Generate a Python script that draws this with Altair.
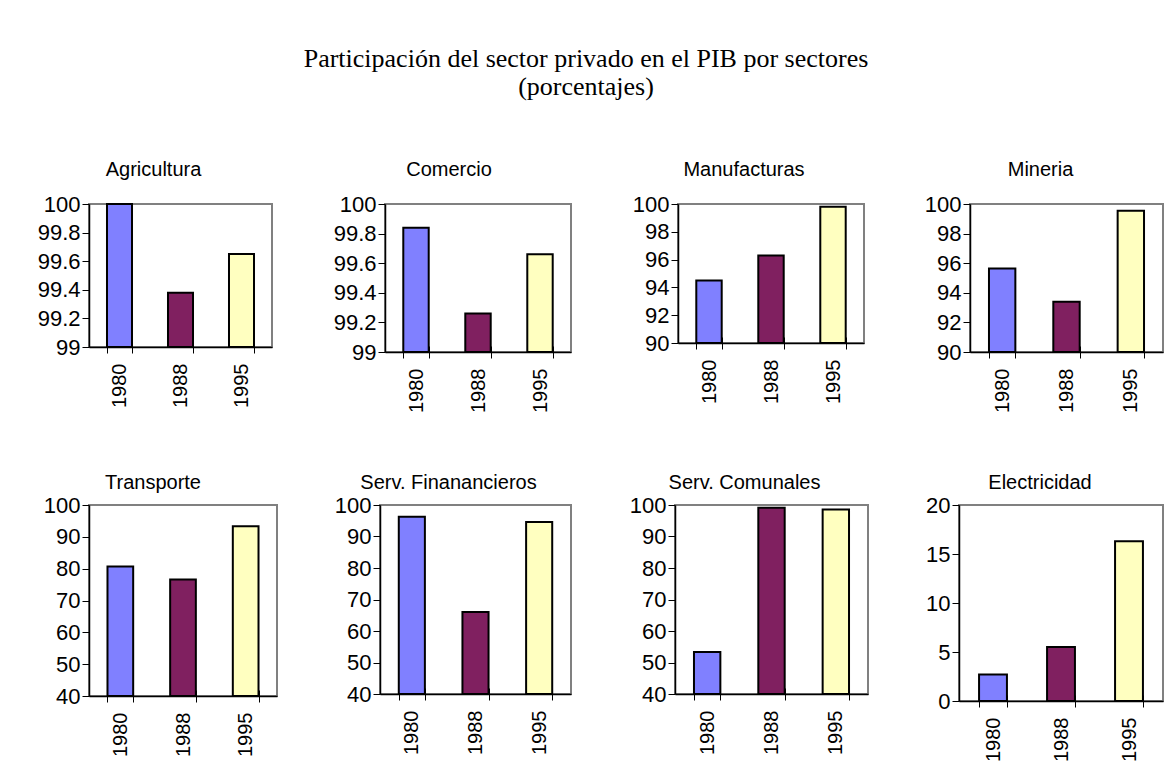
import altair as alt
import pandas as pd

years = ["1980", "1988", "1995"]
sectors = ["Agricultura", "Comercio", "Manufacturas", "Mineria",
           "Transporte", "Serv. Finanancieros", "Serv. Comunales", "Electricidad"]

agricultura = [100.0, 99.38, 99.65]
comercio = [99.84, 99.26, 99.66]
manufacturas = [94.5, 96.3, 99.8]
mineria = [95.65, 93.4, 99.55]
transporte = [80.7, 76.6, 93.3]
serv_financieros = [96.3, 66.0, 94.6]
serv_comunales = [53.3, 99.1, 98.6]
electricidad = [2.7, 5.5, 16.3]

series = [agricultura, comercio, manufacturas, mineria,
          transporte, serv_financieros, serv_comunales, electricidad]

y_domains = [[99, 100], [99, 100], [90, 100], [90, 100],
             [40, 100], [40, 100], [40, 100], [0, 20]]
y_ticks = [[99, 99.2, 99.4, 99.6, 99.8, 100],
           [99, 99.2, 99.4, 99.6, 99.8, 100],
           [90, 92, 94, 96, 98, 100],
           [90, 92, 94, 96, 98, 100],
           [40, 50, 60, 70, 80, 90, 100],
           [40, 50, 60, 70, 80, 90, 100],
           [40, 50, 60, 70, 80, 90, 100],
           [0, 5, 10, 15, 20]]

bar_colors = ["#8080FF", "#802060", "#FFFFC0"]

# layout (pixels)
widths = [183, 186, 186, 193, 188, 191, 193, 204]
heights = [143, 148, 139, 148, 191, 189, 189, 196]
extents = [80, 61, 55, 54, 80, 51, 52, 39]
title_offsets = [-3, -3, -3, -3, -15, -15, -15, -15]
title_dx = [-27, -29, -27, -26, -30, -27, -27, -21]

FONT = "Liberation Sans"


def panel(i):
    df = pd.DataFrame({"year": years, "value": series[i]})
    lo, hi = y_domains[i]
    xscale = alt.Scale(paddingInner=0.59, paddingOuter=0.295)
    bars = alt.Chart(df).mark_bar(stroke="black", strokeWidth=2).encode(
        x=alt.X("year:N", sort=years, title=None, scale=xscale,
                axis=alt.Axis(labelAngle=270, labelFontSize=20, labelPadding=10,
                              tickSize=6, tickBand="extent")),
        y=alt.Y("value:Q", title=None,
                scale=alt.Scale(domain=[lo, hi], nice=False, zero=False),
                axis=alt.Axis(values=y_ticks[i], format="~f", labelFontSize=22,
                              labelPadding=2, tickSize=7,
                              minExtent=extents[i], maxExtent=extents[i])),
        y2=alt.datum(lo),
        color=alt.Color("year:N", scale=alt.Scale(domain=years, range=bar_colors),
                        legend=None),
    )
    # inner half of the crossing category ticks
    inner_ticks = alt.Chart(df).mark_bar(opacity=0).encode(
        x=alt.X("year:N", sort=years, title=None, scale=xscale,
                axis=alt.Axis(orient="bottom", offset=-6, domain=False, labels=False,
                              tickSize=6, tickBand="extent", minExtent=0, maxExtent=0)),
    )
    return alt.layer(bars, inner_ticks).resolve_axis(x="independent").properties(
        width=widths[i], height=heights[i],
        title=alt.TitleParams(sectors[i], offset=title_offsets[i], baseline="alphabetic",
                              frame="group", fontSize=20, font=FONT, dx=title_dx[i],
                              fontWeight="normal", color="black"),
    )


row1 = alt.hconcat(*[panel(i) for i in range(4)], spacing=50)
row2 = alt.hconcat(*[panel(i) for i in range(4, 8)], spacing=50)

chart = alt.vconcat(row1, row2, spacing=58).properties(
    title=alt.TitleParams(
        ["Participación del sector privado en el PIB por sectores", "(porcentajes)"],
        font="Liberation Serif", fontSize=26, fontWeight="normal", color="black",
        lineHeight=28, anchor="middle", baseline="top", offset=59),
    padding={"left": 0, "top": 38, "right": 0, "bottom": 0},
).configure_view(
    stroke="#808080", strokeWidth=2
).configure_axis(
    grid=False, domainColor="black", domainWidth=1.5, tickColor="black",
    tickWidth=1, labelColor="black", labelFont=FONT
).configure_title(font=FONT)

chart.save("out.html", embed_options={"renderer": "svg", "actions": False})
